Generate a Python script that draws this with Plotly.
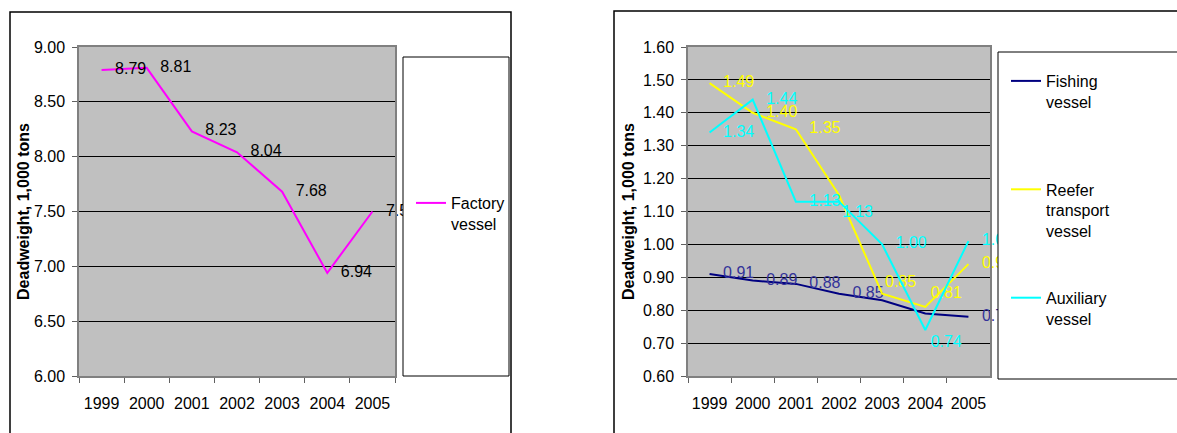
import plotly.graph_objects as go

# ---------------- data ----------------
years = ["1999", "2000", "2001", "2002", "2003", "2004", "2005"]

factory = [8.79, 8.81, 8.23, 8.04, 7.68, 6.94, 7.50]
factory_labels = ["8.79", "8.81", "8.23", "8.04", "7.68", "6.94", "7.50"]

fishing = [0.91, 0.89, 0.88, 0.85, 0.83, 0.79, 0.78]
fishing_labels = ["0.91", "0.89", "0.88", "0.85", "", "", "0.78"]

reefer = [1.49, 1.40, 1.35, 1.15, 0.85, 0.81, 0.94]
reefer_labels = ["1.49", "1.40", "1.35", "", "0.85", "0.81", "0.94"]

auxiliary = [1.34, 1.44, 1.13, 1.13, 1.00, 0.74, 1.01]
auxiliary_labels = ["1.34", "1.44", "1.13", "1.13", "1.00", "0.74", "1.01"]

left_yticks = [6.0, 6.5, 7.0, 7.5, 8.0, 8.5, 9.0]
right_yticks = [0.6, 0.7, 0.8, 0.9, 1.0, 1.1, 1.2, 1.3, 1.4, 1.5, 1.6]

y_title = "Deadweight, 1,000 tons"

# ---------------- layout helpers ----------------
W, H = 1177, 433
FONT = "Arial, Liberation Sans, sans-serif"


def fx(px):
    return px / W


def fy(py):
    return 1 - py / H


MR = "middle right"
TR = "top right"
BR = "bottom right"

fig = go.Figure()


def add_series(x, y, labels, color, label_color, xa, ya, legend,
               legend_name, positions=None, sizes=None, group=None):
    n = len(y)
    fig.add_trace(go.Scatter(
        x=x, y=y, mode="lines", name=legend_name,
        line=dict(color=color, width=2),
        xaxis=xa, yaxis=ya, legend=legend, legendgroup=group,
        hoverinfo="x+y",
    ))
    fig.add_trace(go.Scatter(
        x=x, y=y, mode="markers+text", text=labels,
        textposition=positions or [MR] * n,
        textfont=dict(family=FONT, size=16, color=label_color),
        marker=dict(size=sizes or [20] * n, color="rgba(0,0,0,0)",
                    opacity=0, line=dict(width=0)),
        xaxis=xa, yaxis=ya, showlegend=False, cliponaxis=False,
        hoverinfo="skip", legendgroup=group, legend=legend,
    ))


add_series(years, factory, factory_labels, "#FF00FF", "#000000",
           "x", "y", "legend", "Factory<br>vessel")

add_series(years, fishing, fishing_labels, "#000080", "#333399",
           "x2", "y2", "legend2", "Fishing<br>vessel<br>\u00a0", group="g1")
add_series(years, reefer, reefer_labels, "#FFFF00", "#FFFF00",
           "x2", "y2", "legend2", "Reefer<br>transport<br>vessel", group="g2",
           positions=[MR, MR, MR, MR, TR, TR, MR], sizes=[20, 20, 20, 20, 3, 7, 20])
add_series(years, auxiliary, auxiliary_labels, "#00FFFF", "#00FFFF",
           "x2", "y2", "legend2", "Auxiliary<br>vessel", group="g3",
           positions=[MR, MR, MR, BR, MR, BR, MR], sizes=[20, 20, 20, 3, 20, 7, 20])

axis_line = "#808080"

xcommon = dict(
    type="category", range=[-0.5, 6.5], tickson="boundaries",
    ticks="outside", ticklen=5, tickcolor="#606060", tickwidth=1,
    showline=True, linecolor=axis_line, linewidth=1.5, mirror=True,
    showgrid=False, zeroline=False, fixedrange=True, automargin=False,
    tickangle=0,
    tickfont=dict(family=FONT, size=16, color="#000000"),
    ticklabelstandoff=12,
)
ycommon = dict(
    ticks="outside", ticklen=5, tickcolor="#606060", tickwidth=1,
    showline=True, linecolor=axis_line, linewidth=1.5, mirror=True,
    showgrid=True, gridcolor="#000000", gridwidth=1, zeroline=False,
    tickformat=".2f", fixedrange=True, automargin=False,
    tickfont=dict(family=FONT, size=16, color="#000000"),
    ticklabelstandoff=4,
)

fig.update_layout(
    width=W, height=H, autosize=False,
    margin=dict(l=0, r=0, t=0, b=0, pad=0),
    paper_bgcolor="#FFFFFF", plot_bgcolor="#C0C0C0",
    font=dict(family=FONT, size=16, color="#000000"),
    xaxis=dict(domain=[fx(79), fx(395)], anchor="y", **xcommon),
    yaxis=dict(domain=[fy(376), fy(47)], anchor="x", range=[6, 9],
               tickvals=left_yticks,
               title=dict(text=y_title, font=dict(family=FONT, size=16, color="#000000",
                                                  weight="bold"), standoff=0),
               **ycommon),
    xaxis2=dict(domain=[fx(688), fx(990)], anchor="y2", **xcommon),
    yaxis2=dict(domain=[fy(376), fy(47)], anchor="x2", range=[0.6, 1.6],
                tickvals=right_yticks,
                title=dict(text=y_title, font=dict(family=FONT, size=16, color="#000000",
                                                   weight="bold"), standoff=4),
                **ycommon),
    legend=dict(x=fx(411), y=fy(186), xanchor="left", yanchor="top",
                bgcolor="rgba(0,0,0,0)", borderwidth=0, valign="top",
                font=dict(family=FONT, size=16, color="#000000")),
    legend2=dict(x=fx(1006), y=fy(64), xanchor="left", yanchor="top",
                 bgcolor="rgba(0,0,0,0)", borderwidth=0, valign="top",
                 tracegroupgap=43,
                 font=dict(family=FONT, size=16, color="#000000")),
    showlegend=True,
    shapes=[
        # outer chart frames
        dict(type="rect", xref="paper", yref="paper", x0=fx(10), x1=fx(511),
             y0=fy(445), y1=fy(12), line=dict(color="#000000", width=1.5),
             fillcolor="rgba(0,0,0,0)", layer="below"),
        dict(type="rect", xref="paper", yref="paper", x0=fx(614), x1=fx(1190),
             y0=fy(445), y1=fy(11), line=dict(color="#000000", width=1.5),
             fillcolor="rgba(0,0,0,0)", layer="below"),
        # legend boxes
        dict(type="rect", xref="paper", yref="paper", x0=fx(403), x1=fx(509),
             y0=fy(376), y1=fy(57), line=dict(color="#000000", width=1),
             fillcolor="#FFFFFF", layer="above"),
        dict(type="rect", xref="paper", yref="paper", x0=fx(998), x1=fx(1190),
             y0=fy(379), y1=fy(52), line=dict(color="#000000", width=1),
             fillcolor="#FFFFFF", layer="above"),
    ],
)

fig.write_html(
    "out.html",
    config={"displayModeBar": False, "staticPlot": False},
    post_script="document.body.style.margin='0';document.body.style.padding='0';"
                "document.body.style.overflow='hidden';",
)
